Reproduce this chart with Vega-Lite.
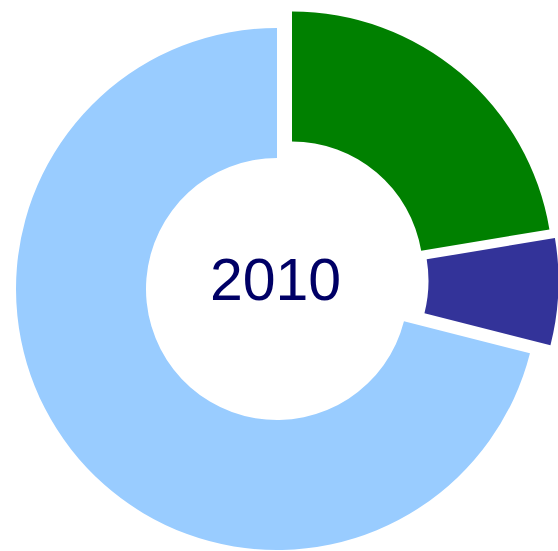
{
  "$schema": "https://vega.github.io/schema/vega-lite/v6.json",
  "width": 554,
  "height": 500,
  "autosize": {"type": "none"},
  "padding": {"left": 0, "top": 39, "right": 4, "bottom": 12},
  "background": "white",
  "view": {"stroke": null},
  "data": {"values": [
    {"cat": "Green", "value": 22.36, "order": 1},
    {"cat": "Dark blue", "value": 6.6, "order": 2},
    {"cat": "Light blue", "value": 71.04, "order": 3}
  ]},
  "transform": [
    {"stack": "value", "groupby": [], "as": ["v0", "v1"], "sort": [{"field": "order", "order": "ascending"}]}
  ],
  "layer": [
    {
      "transform": [{"filter": "datum.cat === 'Light blue'"}],
      "mark": {"type": "arc", "radius": 261, "radius2": 131, "color": "#99ccff"},
      "encoding": {
        "theta": {"field": "v0", "type": "quantitative", "scale": {"domain": [0, 100], "range": [0, 6.283185307]}},
        "theta2": {"field": "v1"}
      }
    },
    {
      "transform": [{"filter": "datum.cat === 'Green'"}],
      "mark": {"type": "arc", "radius": 261, "radius2": 131, "color": "#008000", "xOffset": 15, "yOffset": -16.5},
      "encoding": {
        "theta": {"field": "v0", "type": "quantitative", "scale": {"domain": [0, 100], "range": [0, 6.283185307]}},
        "theta2": {"field": "v1"}
      }
    },
    {
      "transform": [{"filter": "datum.cat === 'Dark blue'"}],
      "mark": {"type": "arc", "radius": 261, "radius2": 131, "color": "#333399", "xOffset": 20.5, "yOffset": -8},
      "encoding": {
        "theta": {"field": "v0", "type": "quantitative", "scale": {"domain": [0, 100], "range": [0, 6.283185307]}},
        "theta2": {"field": "v1"}
      }
    },
    {
      "data": {"values": [{"label": "2010"}]},
      "mark": {"type": "text", "font": "Liberation Sans", "fontSize": 59, "color": "#000066", "align": "center", "baseline": "alphabetic", "dx": -1.5, "dy": 11},
      "encoding": {"text": {"field": "label", "type": "nominal"}}
    }
  ]
}
